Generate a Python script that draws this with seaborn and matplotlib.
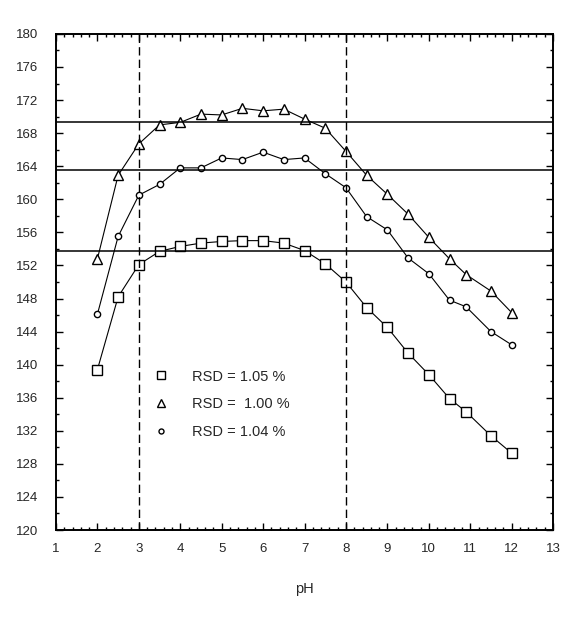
import pandas as pd
import matplotlib
matplotlib.use('Agg')
import matplotlib.pyplot as plt
import seaborn as sns
from matplotlib.lines import Line2D
from matplotlib.ticker import MultipleLocator

# valores de pH
ph = [2, 2.5, 3, 3.5, 4, 4.5, 5, 5.5, 6, 6.5, 7, 7.5, 8, 8.5, 9, 9.5, 10, 10.5, 10.9, 11.5, 12]

# series
quadrado = [139.4, 148.2, 152.1, 153.7, 154.3, 154.7, 154.9, 155.0, 155.0, 154.7, 153.8, 152.2,
            150.0, 146.9, 144.5, 141.4, 138.8, 135.9, 134.3, 131.4, 129.3]
triangulo = [152.8, 162.9, 166.7, 169.0, 169.3, 170.3, 170.2, 171.0, 170.7, 170.9, 169.7, 168.6,
             165.8, 162.9, 160.6, 158.2, 155.4, 152.8, 150.9, 148.9, 146.3]
circulo = [146.1, 155.5, 160.5, 161.8, 163.8, 163.8, 165.0, 164.8, 165.7, 164.8, 165.0, 163.1,
           161.4, 157.9, 156.3, 152.9, 151.0, 147.8, 147.0, 144.0, 142.4]

rotulos = ['RSD = 1.05 %', 'RSD =  1.00 %', 'RSD = 1.04 %']
marcadores = ['s', '^', 'o']
tamanhos = [6.5, 6.5, 4.5]

# linhas de referencia
medias = [169.4, 163.5, 153.8]
limites_ph = [3, 8]

sns.set_style('ticks')
plt.rcParams['font.family'] = ['Liberation Sans', 'DejaVu Sans']

fig = plt.figure(figsize=(5.69, 6.28), dpi=100)
ax = fig.add_axes([0.0984, 0.156, 0.8736, 0.79])

for serie, m, ms in zip([quadrado, triangulo, circulo], marcadores, tamanhos):
    df = pd.DataFrame({'pH': ph, 'valor': serie})
    sns.lineplot(ax=ax, x='pH', y='valor', data=df, color='black', linewidth=0.8,
                 marker=m, markersize=ms, markerfacecolor='white', markeredgecolor='black',
                 markeredgewidth=1.0, legend=False)

for y in medias:
    ax.axhline(y, color='black', linewidth=1.1)
for x in limites_ph:
    ax.axvline(x, color='black', linewidth=1.0, linestyle=(0, (6, 3)))

ax.set_xlim(1, 13)
ax.set_ylim(120, 180)
ax.xaxis.set_major_locator(MultipleLocator(1))
ax.xaxis.set_minor_locator(MultipleLocator(0.2))
ax.yaxis.set_major_locator(MultipleLocator(4))
ax.yaxis.set_minor_locator(MultipleLocator(2))
ax.tick_params(which='both', direction='in', top=True, right=True, labelsize=9.5, color='black')
ax.tick_params(which='major', length=5, width=1)
ax.tick_params(which='minor', length=2.5, width=1)
ax.tick_params(axis='x', pad=9)
ax.tick_params(axis='y', pad=13)
for s in ax.spines.values():
    s.set_linewidth(1.4)
    s.set_color('black')

ax.set_xlabel('pH', fontsize=10.5, labelpad=20)
ax.set_ylabel('')

handles = [Line2D([], [], linestyle='none', marker=m, markersize=ms * 0.8, markerfacecolor='white',
                  markeredgecolor='black', markeredgewidth=1.0) for m, ms in zip(marcadores, tamanhos)]
ax.legend(handles, rotulos, loc='upper left', bbox_to_anchor=(0.17, 0.35), frameon=False,
          fontsize=10.5, handlelength=1.0, handletextpad=1.6, labelspacing=0.95)

plt.savefig('out.png', dpi=100)
